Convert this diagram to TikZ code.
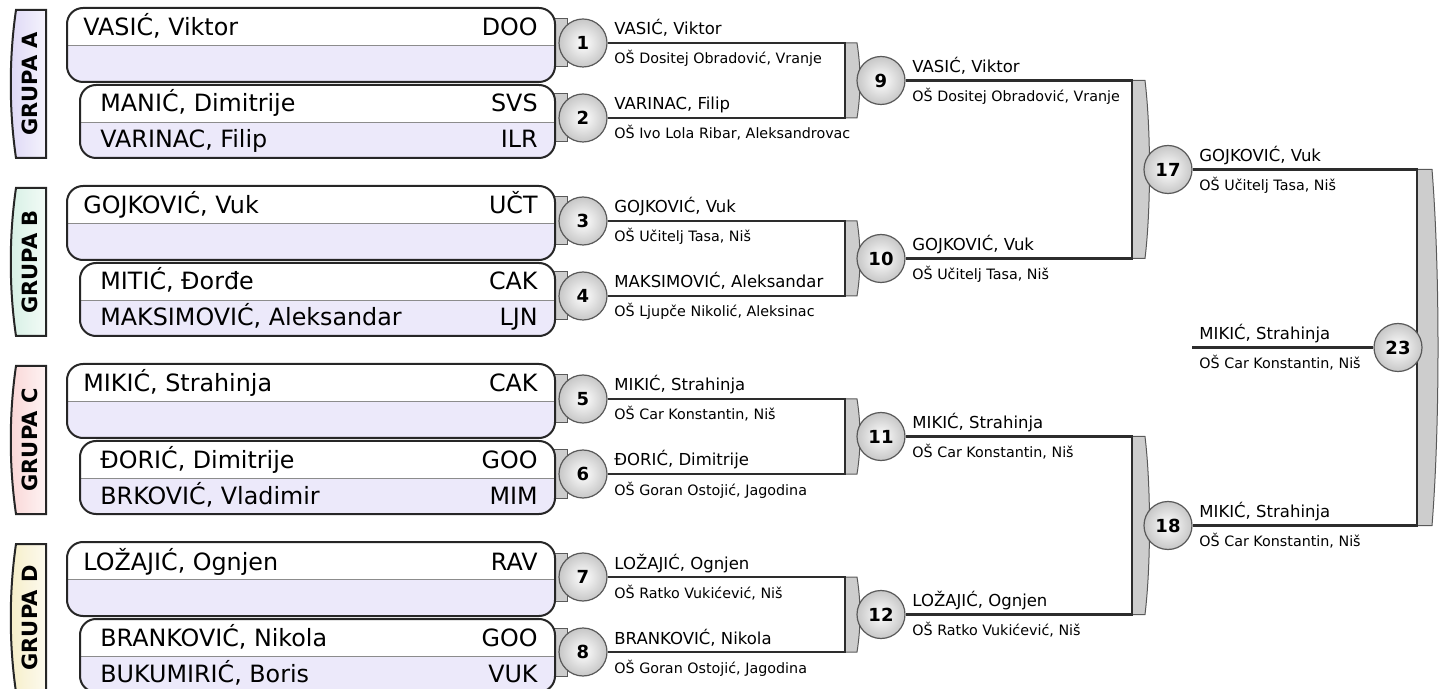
\documentclass[tikz,border=0pt]{standalone}
\usepackage{fontspec}
\setmainfont{DejaVu Sans}
\usetikzlibrary{backgrounds,calc}

\definecolor{rowlila}{RGB}{236,233,250}
\definecolor{grpa}{RGB}{222,216,246}
\definecolor{grpb}{RGB}{214,240,228}
\definecolor{grpc}{RGB}{250,214,214}
\definecolor{grpd}{RGB}{246,238,200}
\definecolor{wiregray}{RGB}{45,45,45}
\definecolor{bargray}{RGB}{205,205,205}

\tikzset{
  match/.style={circle, draw=black!65, line width=0.6pt, inner color=white, outer color=black!22,
    minimum size=24pt, inner sep=0pt, font=\bfseries\fontsize{9}{9}\selectfont},
  pname/.style={anchor=base west, inner sep=0pt, font=\fontsize{8.25}{9}\selectfont},
  pschool/.style={anchor=base west, inner sep=0pt, font=\fontsize{7.15}{8}\selectfont},
  boxname/.style={anchor=base west, inner sep=0pt, font=\fontsize{11.9}{13}\selectfont},
  boxcode/.style={anchor=base east, inner sep=0pt, font=\fontsize{11.9}{13}\selectfont},
  grplabel/.style={rotate=90, inner sep=0pt, font=\bfseries\fontsize{10.5}{11}\selectfont},
  boxline/.style={draw=black!85, line width=1pt, rounded corners=8},
  tabline/.style={draw=black!85, line width=1pt},
  wire/.style={draw=wiregray, line width=1.1pt},
  bar/.style={fill=bargray, draw=black!65, line width=0.5pt},
}

\begin{document}
\begin{tikzpicture}[x=0.5pt,y=-0.5pt]
\useasboundingbox (0,0) rectangle (1440,689);

% groups
\foreach \T/\grp/\col/\na/\ca/\nb/\cb/\nc/\cc in {
  8/A/grpa/{VASIĆ, Viktor}/DOO/{MANIĆ, Dimitrije}/SVS/{VARINAC, Filip}/ILR,
  186/B/grpb/{GOJKOVIĆ, Vuk}/UČT/{MITIĆ, Đorđe}/CAK/{MAKSIMOVIĆ, Aleksandar}/LJN,
  364/C/grpc/{MIKIĆ, Strahinja}/CAK/{ĐORIĆ, Dimitrije}/GOO/{BRKOVIĆ, Vladimir}/MIM,
  542/D/grpd/{LOŽAJIĆ, Ognjen}/RAV/{BRANKOVIĆ, Nikola}/GOO/{BUKUMIRIĆ, Boris}/VUK}{
  \draw[tabline, left color=\col, right color=\col!30] (46,\T+2) -- (16,\T+2)
    .. controls (9,\T+50) and (9,\T+102) .. (16,\T+150) -- (46,\T+150) -- cycle;
  \node[grplabel] (g\grp) at (30,\T+76) {GRUPA \grp};
  % upper box
  \begin{scope}
    \clip[rounded corners=8] (67,\T) rectangle (555,\T+74);
    \fill[white] (67,\T) rectangle (555,\T+37);
    \fill[rowlila] (67,\T+37) rectangle (555,\T+74);
  \end{scope}
  \draw[black!45] (67,\T+37) -- (555,\T+37);
  \draw[boxline] (67,\T) rectangle (555,\T+74);
  \node[boxname] (pa\grp) at (83,\T+28) {\na};
  \node[boxcode] (ca\grp) at (538,\T+28) {\ca};
  % lower box
  \begin{scope}
    \clip[rounded corners=8] (80,\T+77) rectangle (555,\T+150);
    \fill[white] (80,\T+77) rectangle (555,\T+114);
    \fill[rowlila] (80,\T+114) rectangle (555,\T+150);
  \end{scope}
  \draw[black!45] (80,\T+114) -- (555,\T+114);
  \draw[boxline] (80,\T+77) rectangle (555,\T+150);
  \node[boxname] (pb\grp) at (100,\T+104) {\nb};
  \node[boxcode] (cb\grp) at (538,\T+104) {\cb};
  \node[boxname] (pc\grp) at (100,\T+140) {\nc};
  \node[boxcode] (cc\grp) at (538,\T+140) {\cc};
}

% matches
\foreach \i/\cx/\cy/\pn/\ps in {
  1/583/43/{VASIĆ, Viktor}/{OŠ Dositej Obradović, Vranje},
  2/583/118/{VARINAC, Filip}/{OŠ Ivo Lola Ribar, Aleksandrovac},
  3/583/221/{GOJKOVIĆ, Vuk}/{OŠ Učitelj Tasa, Niš},
  4/583/296/{MAKSIMOVIĆ, Aleksandar}/{OŠ Ljupče Nikolić, Aleksinac},
  5/583/399/{MIKIĆ, Strahinja}/{OŠ Car Konstantin, Niš},
  6/583/474/{ĐORIĆ, Dimitrije}/{OŠ Goran Ostojić, Jagodina},
  7/583/577/{LOŽAJIĆ, Ognjen}/{OŠ Ratko Vukićević, Niš},
  8/583/652/{BRANKOVIĆ, Nikola}/{OŠ Goran Ostojić, Jagodina},
  9/881/80.5/{VASIĆ, Viktor}/{OŠ Dositej Obradović, Vranje},
  10/881/258.5/{GOJKOVIĆ, Vuk}/{OŠ Učitelj Tasa, Niš},
  11/881/436.5/{MIKIĆ, Strahinja}/{OŠ Car Konstantin, Niš},
  12/881/614.5/{LOŽAJIĆ, Ognjen}/{OŠ Ratko Vukićević, Niš},
  17/1168/169.5/{GOJKOVIĆ, Vuk}/{OŠ Učitelj Tasa, Niš},
  18/1168/525.5/{MIKIĆ, Strahinja}/{OŠ Car Konstantin, Niš}}{
  \node[match] (m\i) at (\cx,\cy) {\i};
  \node[pname] (n\i) at (\cx+31,\cy-8) {\pn};
  \node[pschool] (s\i) at (\cx+31,\cy+21) {\ps};
}
\node[match] (m23) at (1398,347.5) {23};
\node[pname] (n23) at (1199,339.5) {MIKIĆ, Strahinja};
\node[pschool] (s23) at (1199,368.5) {OŠ Car Konstantin, Niš};
\coordinate (f23) at (1192,347.5);

% bracket columns
\coordinate (j1) at (845,0);
\coordinate (j2) at (1132,0);
\coordinate (j3) at (1417,0);

\begin{pgfonlayer}{background}
  % stubs between boxes and first matches
  \foreach \i in {1,...,8}
    \draw[bar] ($(m\i)+(-30,-24)$) rectangle ($(m\i)+(-16,24)$);
  % grey bars
  \foreach \a/\b in {1/2,3/4,5/6,7/8}
    \draw[bar] (m\a -| j1) -- ($(m\a -| j1)+(12,0)$)
      .. controls ($(m\a -| j1)+(16,25)$) and ($(m\b -| j1)+(16,-25)$) .. ($(m\b -| j1)+(12,0)$)
      -- (m\b -| j1) -- cycle;
  \foreach \a/\b in {9/10,11/12}
    \draw[bar] (m\a -| j2) -- ($(m\a -| j2)+(13,0)$)
      .. controls ($(m\a -| j2)+(19,50)$) and ($(m\b -| j2)+(19,-50)$) .. ($(m\b -| j2)+(13,0)$)
      -- (m\b -| j2) -- cycle;
  \draw[bar] (m17 -| j3) -- ($(m17 -| j3)+(15,0)$)
    .. controls ($(m17 -| j3)+(23,100)$) and ($(m18 -| j3)+(23,-100)$) .. ($(m18 -| j3)+(15,0)$)
    -- (m18 -| j3) -- cycle;
  % wires
  \foreach \a/\b in {1/2,3/4,5/6,7/8}
    \draw[wire] (m\a) -- (m\a -| j1) -- (m\b -| j1) -- (m\b);
  \foreach \a/\b in {9/10,11/12}
    \draw[wire] (m\a) -- (m\a -| j2) -- (m\b -| j2) -- (m\b);
  \draw[wire] (m17) -- (m17 -| j3) -- (m18 -| j3) -- (m18);
  \draw[wire] (m23) -- (f23);
\end{pgfonlayer}
\end{tikzpicture}
\end{document}
